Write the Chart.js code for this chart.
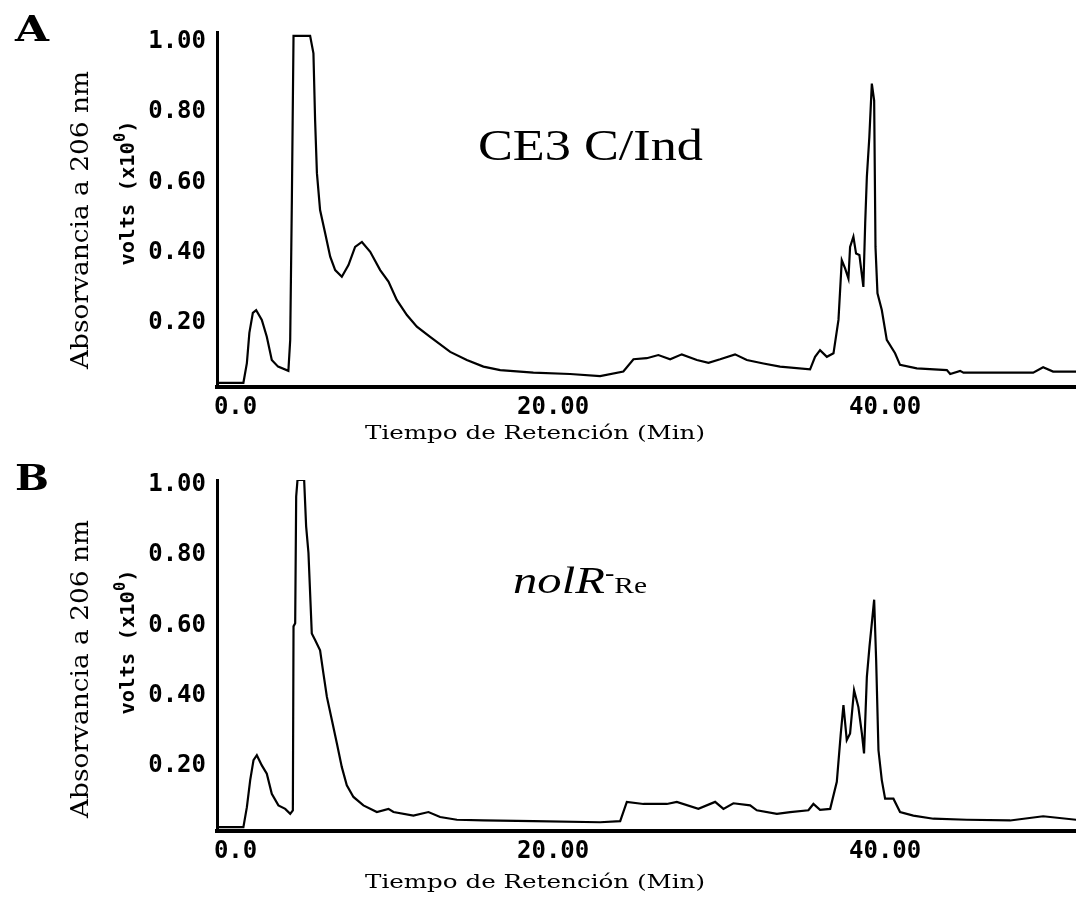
<!DOCTYPE html>
<html lang="es">
<head>
  <meta charset="UTF-8" />
  <title>Cromatogramas CE3 C/Ind y nolR-Re</title>
  <script src="https://cdn.jsdelivr.net/npm/chart.js"></script>
  <style>
    html, body { margin: 0; padding: 0; background: #fff; }
    .panel { position: absolute; left: 0; width: 1076px; height: 449px; }
    #panelA { top: 0; }
    #panelB { top: 449px; }
  </style>
</head>
<body>
  <div class="panel" id="panelA"><canvas id="chartA"></canvas></div>
  <div class="panel" id="panelB"><canvas id="chartB"></canvas></div>

  <script>
    // retention time (min) and absorbance (volts)
    const timeA = [-0.25, 1.34, 1.55, 1.70, 1.91, 2.11, 2.45, 2.75, 3.05, 3.43, 4.05, 4.16, 4.26, 4.36, 5.36,
      5.56, 5.66, 5.77, 5.96, 6.27, 6.57, 6.87, 7.27, 7.67, 8.07, 8.48, 8.98, 9.58, 10.08, 10.58, 11.19,
      11.79, 12.59, 13.80, 14.80, 15.80, 16.81, 18.81, 21.02, 22.83, 24.23, 24.84, 25.64, 26.34, 27.05,
      27.75, 28.66, 29.36, 30.06, 30.96, 31.67, 32.67, 33.67, 35.48, 35.78, 36.08, 36.49, 36.89, 37.19,
      37.39, 37.59, 37.79, 37.89, 38.09, 38.25, 38.45, 38.69, 38.80, 38.90, 39.05, 39.20, 39.34, 39.42,
      39.54, 39.80, 40.10, 40.60, 40.90, 41.91, 43.72, 43.92, 44.52, 44.72, 48.92, 49.52, 50.12, 51.51];
    const absA = [0.012, 0.012, 0.068, 0.154, 0.211, 0.219, 0.191, 0.143, 0.077, 0.058, 0.046, 0.134, 0.532, 1.0, 1.0,
      0.950, 0.760, 0.609, 0.504, 0.437, 0.371, 0.333, 0.314, 0.347, 0.399, 0.413, 0.385, 0.333, 0.300, 0.248, 0.205,
      0.172, 0.143, 0.100, 0.077, 0.058, 0.048, 0.041, 0.037, 0.031, 0.044, 0.079, 0.082, 0.091, 0.079,
      0.093, 0.077, 0.069, 0.079, 0.093, 0.077, 0.067, 0.058, 0.050, 0.086, 0.105, 0.086, 0.096, 0.191,
      0.361, 0.338, 0.309, 0.399, 0.428, 0.380, 0.376, 0.285, 0.466, 0.598, 0.712, 0.864, 0.816, 0.399,
      0.267, 0.219, 0.134, 0.096, 0.063, 0.053, 0.048, 0.037, 0.046, 0.041, 0.041, 0.056, 0.044, 0.044];

    const timeB = [-0.25, 1.34, 1.55, 1.75, 1.95, 2.15, 2.45, 2.75, 3.05, 3.45, 3.86, 4.16, 4.32, 4.36, 4.46,
      4.52, 4.60, 5.00, 5.12, 5.26, 5.46, 5.66, 5.96, 6.16, 6.37, 6.67, 6.97, 7.27, 7.57, 7.97, 8.57,
      9.38, 10.08, 10.38, 11.58, 12.49, 13.19, 14.20, 15.80, 18.81, 22.83, 24.04, 24.44, 25.44, 26.85,
      27.45, 28.75, 29.76, 30.26, 30.86, 31.87, 32.27, 33.48, 34.28, 35.38, 35.68, 36.08, 36.69, 37.09,
      37.33, 37.49, 37.69, 37.89, 38.13, 38.39, 38.60, 38.73, 38.90, 39.06, 39.20, 39.34, 39.46, 39.60,
      39.80, 40.00, 40.50, 40.90, 41.70, 42.91, 44.92, 47.53, 49.52, 51.51];
    const absB = [0.011, 0.011, 0.068, 0.145, 0.202, 0.216, 0.187, 0.163, 0.106, 0.073, 0.063, 0.049, 0.059, 0.583, 0.592,
      0.953, 1.0, 1.0, 0.868, 0.792, 0.563, 0.544, 0.515, 0.449, 0.382, 0.316, 0.250, 0.182, 0.130, 0.097, 0.073,
      0.054, 0.063, 0.054, 0.044, 0.054, 0.040, 0.032, 0.030, 0.028, 0.025, 0.028, 0.083, 0.077, 0.077,
      0.083, 0.063, 0.083, 0.063, 0.079, 0.073, 0.059, 0.049, 0.054, 0.059, 0.077, 0.060, 0.063, 0.140,
      0.278, 0.359, 0.259, 0.278, 0.401, 0.353, 0.278, 0.221, 0.439, 0.526, 0.592, 0.659, 0.487, 0.230,
      0.145, 0.092, 0.092, 0.054, 0.044, 0.035, 0.032, 0.030, 0.042, 0.032];

    const xTicks = [0, 20, 40];
    const xTickLabels = ['  0.0', '20.00', '40.00'];
    const yTicks = [0.2, 0.4, 0.6, 0.8, 1.0];
    const yTickLabels = ['0.20', '0.40', '0.60', '0.80', '1.00'];

    const yTitle = 'Absorvancia a 206 nm';
    const yUnit = 'volts (x10';
    const xTitle = 'Tiempo de Retención (Min)';

    const SERIF = '"DejaVu Serif", serif';
    const MONO = '"DejaVu Sans Mono", monospace';

    // draws a run of text pieces, stretched horizontally to a target width
    function drawRich(ctx, item) {
      ctx.save();
      ctx.translate(item.x, item.y);
      if (item.rotate) ctx.rotate(item.rotate * Math.PI / 180);
      let total = 0;
      item.parts.forEach(p => { ctx.font = p.font; total += ctx.measureText(p.text).width; });
      const sx = item.width ? item.width / total : 1;
      ctx.scale(sx, 1);
      let cx = item.align === 'center' ? -total / 2 : 0;
      ctx.textBaseline = 'alphabetic';
      ctx.textAlign = 'left';
      ctx.fillStyle = '#000';
      item.parts.forEach(p => {
        ctx.font = p.font;
        ctx.fillText(p.text, cx, p.dy || 0);
        cx += ctx.measureText(p.text).width;
      });
      ctx.restore();
    }

    function textPlugin(items) {
      return {
        id: 'panelText',
        afterDraw(chart) {
          items.forEach(item => drawRich(chart.ctx, item));
        }
      };
    }

    function commonTexts(letter) {
      return [
        { parts: [{ text: letter, font: 'bold 36px ' + SERIF }], x: 15, y: 41, width: 34 },
        { parts: [{ text: yTitle, font: '25px ' + SERIF }], x: 88, y: 220, rotate: -90, align: 'center', width: 298 },
        { parts: [
            { text: yUnit, font: 'bold 20px ' + MONO },
            { text: '0', font: 'bold 15px ' + MONO, dy: -9 },
            { text: ')', font: 'bold 20px ' + MONO }
          ], x: 134, y: 193, rotate: -90, align: 'center', width: 145 },
        { parts: [{ text: xTitle, font: '19px ' + SERIF }], x: 535, y: 439, align: 'center', width: 340 }
      ];
    }

    function makeChart(id, times, values, opts) {
      const points = times.map((t, i) => ({ x: t, y: values[i] }));
      return new Chart(document.getElementById(id), {
        type: 'line',
        data: {
          datasets: [{
            data: points,
            borderColor: '#000',
            borderWidth: 2.2,
            pointRadius: 0,
            tension: 0,
            fill: false
          }]
        },
        options: {
          responsive: true,
          maintainAspectRatio: false,
          animation: false,
          layout: { padding: { top: opts.top, left: 0, right: 0, bottom: 0 } },
          plugins: { legend: { display: false }, tooltip: { enabled: false } },
          scales: {
            x: {
              type: 'linear',
              min: -0.25,
              max: 51.5,
              afterFit: s => { s.height = opts.xHeight; },
              afterBuildTicks: s => { s.ticks = xTicks.map(v => ({ value: v })); },
              grid: { display: false },
              border: { display: true, color: '#000', width: 4 },
              ticks: {
                padding: -2,
                color: '#000',
                font: { family: MONO, size: 24, weight: 'bold' },
                maxRotation: 0,
                autoSkip: false,
                callback: v => xTickLabels[xTicks.indexOf(v)]
              }
            },
            y: {
              min: 0,
              max: opts.yMax,
              afterFit: s => { s.width = 217; },
              afterBuildTicks: s => { s.ticks = yTicks.map(v => ({ value: v })); },
              grid: { display: false },
              border: { display: true, color: '#000', width: 3 },
              ticks: {
                padding: 3,
                labelOffset: opts.labelOffset,
                color: '#000',
                font: { family: MONO, size: 24, weight: 'bold' },
                autoSkip: false,
                callback: v => yTickLabels[yTicks.indexOf(v)]
              }
            }
          }
        },
        plugins: [textPlugin(opts.texts)]
      });
    }

    makeChart('chartA', timeA, absA, {
      top: 32, xHeight: 62, yMax: 1.011, labelOffset: 6,
      texts: commonTexts('A').concat([
        { parts: [{ text: 'CE3 C/Ind', font: '44px "Liberation Serif", serif' }], x: 478, y: 160, width: 225 }
      ])
    });

    makeChart('chartB', timeB, absB, {
      top: 31, xHeight: 67, yMax: 1.0, labelOffset: 5,
      texts: commonTexts('B').concat([
        { parts: [
            { text: 'nolR', font: 'italic 38px "Liberation Serif", serif' },
            { text: '-', font: 'bold 22px "Liberation Serif", serif', dy: -13 },
            { text: 'Re', font: '23px "Liberation Serif", serif' }
          ], x: 513, y: 144, width: 134 }
      ])
    });
  </script>
</body>
</html>
